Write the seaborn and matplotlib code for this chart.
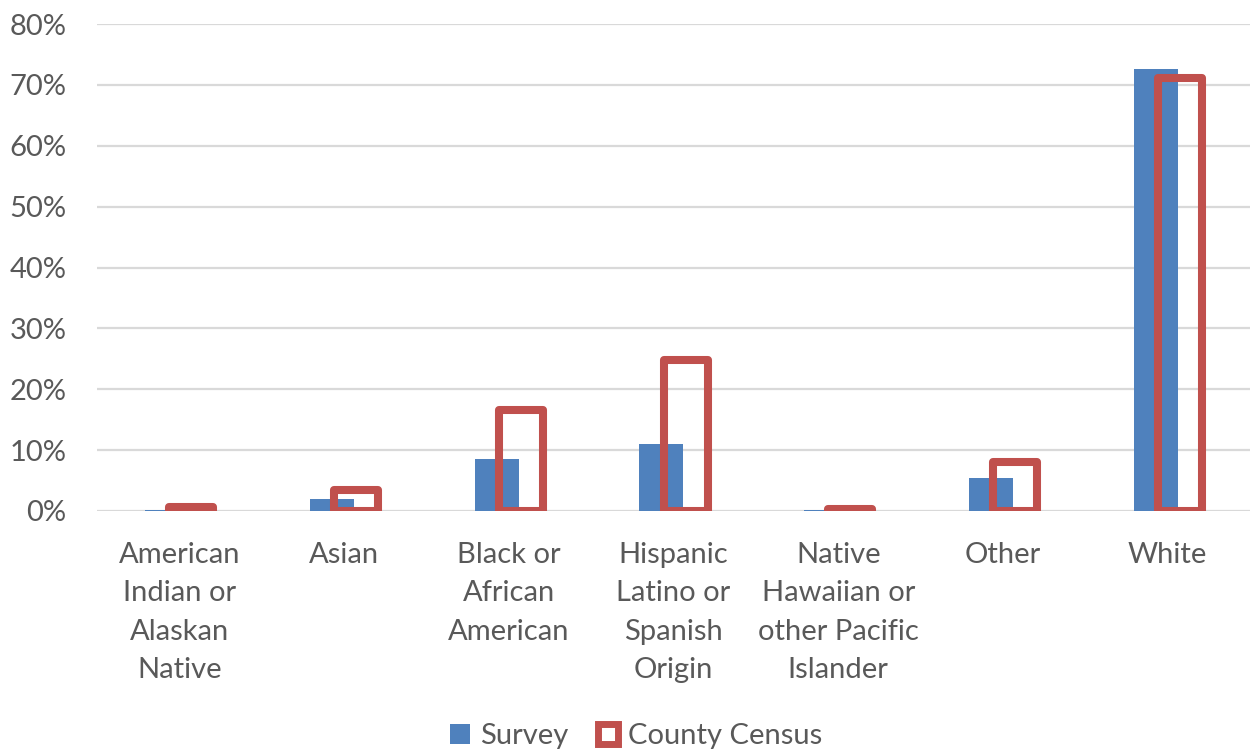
import numpy as np
import pandas as pd
import matplotlib
matplotlib.use("Agg")
import matplotlib.pyplot as plt
import seaborn as sns
from matplotlib.patches import Patch

# =======================
# Datos
# =======================
categories = [
    "American\nIndian or\nAlaskan\nNative",
    "Asian",
    "Black or\nAfrican\nAmerican",
    "Hispanic\nLatino or\nSpanish\nOrigin",
    "Native\nHawaiian or\nother Pacific\nIslander",
    "Other",
    "White",
]
survey = [0.2, 1.9, 8.5, 11.0, 0.1, 5.5, 72.7]
census = [0.6, 3.4, 16.6, 24.8, 0.3, 8.0, 71.1]
y_ticks = [0, 10, 20, 30, 40, 50, 60, 70, 80]

blue = "#4F81BD"
red = "#C0504D"
grey_txt = "#595959"

sns.set_style("white")
plt.rcParams["font.family"] = ["Lato", "DejaVu Sans"]

df = pd.DataFrame({"cat": categories, "survey": survey, "census": census})

fig = plt.figure(figsize=(12.55, 7.53), dpi=100)
ax = fig.add_axes([0.0773, 0.3214, 0.9187, 0.6466])

bw = 0.267
off = 0.073

# barras de la encuesta (relleno azul)
sns.barplot(data=df, x="cat", y="survey", color=blue, width=bw,
            saturation=1, ax=ax, zorder=2)
n_blue = len(ax.patches)
for p in ax.patches:
    p.set_x(p.get_x() - off)
    p.set_edgecolor("none")

# barras del censo (solo contorno rojo)
sns.barplot(data=df, x="cat", y="census", width=bw, saturation=1,
            fill=False, color=red, linewidth=5.8, ax=ax, zorder=3)
for p in ax.patches[n_blue:]:
    p.set_x(p.get_x() + off)
    p.set_edgecolor(red)
    p.set_facecolor("none")
    p.set_linewidth(5.8)
    p.set_joinstyle("round")

ax.set_xlim(-0.5, len(categories) - 0.5)
ax.set_ylim(0, 80)
ax.set_yticks(y_ticks)
ax.set_yticklabels([f"{t}%" for t in y_ticks])
ax.yaxis.grid(True, color="#D9D9D9", linewidth=1.6, zorder=0)
ax.set_axisbelow(True)
for s in ax.spines.values():
    s.set_visible(False)
ax.tick_params(axis="both", length=0, labelsize=21, colors=grey_txt)
ax.tick_params(axis="y", pad=22)
ax.tick_params(axis="x", pad=22)
for lbl in ax.get_xticklabels():
    lbl.set_linespacing(1.6)
    lbl.set_verticalalignment("top")
ax.set_xlabel("")
ax.set_ylabel("")

handles = [Patch(facecolor=blue, edgecolor="none", label="Survey"),
           Patch(facecolor="white", edgecolor=red, linewidth=5, label="County Census")]
fig.legend(handles=handles, loc="center", bbox_to_anchor=(0.507, 0.022), ncol=2,
           frameon=False, fontsize=21, labelcolor=grey_txt, handlelength=0.7,
           handleheight=0.7, handletextpad=0.35, columnspacing=1.0)

fig.savefig("out.png", dpi=100)
